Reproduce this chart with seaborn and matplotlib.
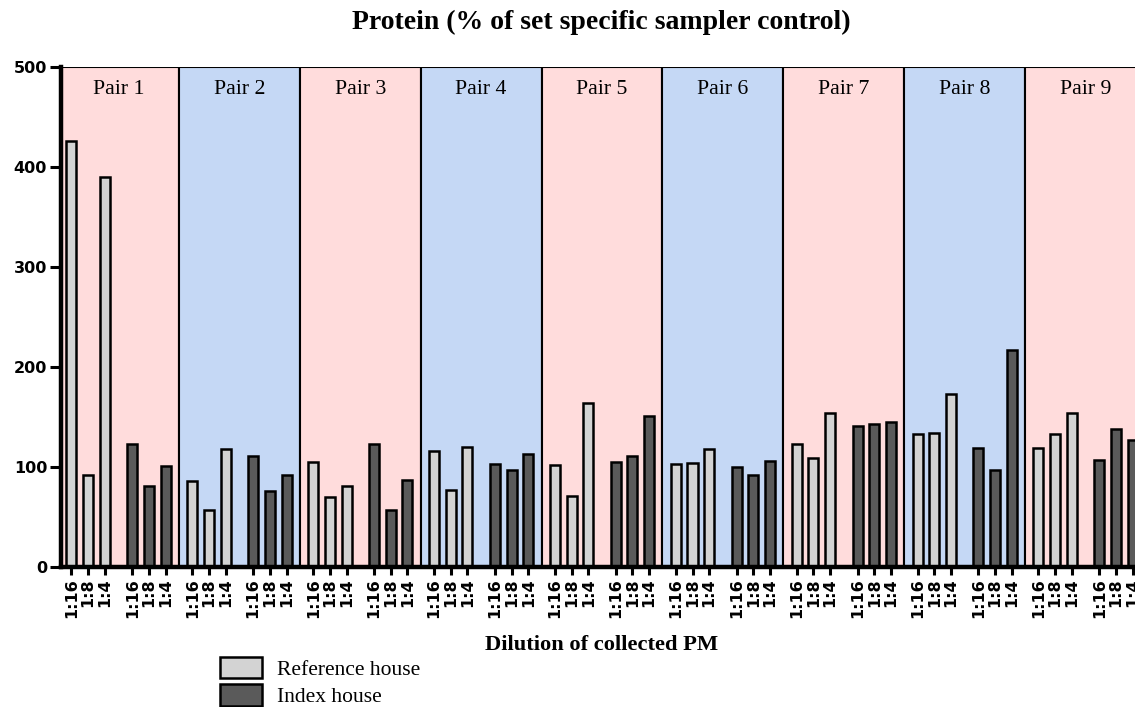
import numpy as np
import pandas as pd
import seaborn as sns
import matplotlib
matplotlib.use("Agg")
import matplotlib.pyplot as plt
from matplotlib.patches import Patch
import matplotlib.transforms as mtransforms

# ---------------- data ----------------
pairs = [f"Pair {i}" for i in range(1, 10)]
dilutions = ["1:16", "1:8", "1:4"]
houses = ["Reference house", "Index house"]

reference_house = [
    [426, 92, 390],
    [86, 57, 118],
    [105, 70, 81],
    [116, 77, 120],
    [102, 71, 164],
    [103, 104, 118],
    [123, 109, 154],
    [133, 134, 173],
    [119, 133, 154],
]
index_house = [
    [123, 81, 101],
    [111, 76, 92],
    [123, 57, 87],
    [103, 97, 113],
    [105, 111, 151],
    [100, 92, 106],
    [141, 143, 145],
    [119, 97, 217],
    [107, 138, 127],
]

y_ticks = [0, 100, 200, 300, 400, 500]
title = "Protein (% of set specific sampler control)"
x_label = "Dilution of collected PM"

# ---------------- styling ----------------
light = "#d3d3d3"
dark = "#5a5a5a"
pink = "#ffdcdc"
blue = "#c5d8f5"

sns.set_style("ticks")
plt.rcParams["font.family"] = ["DejaVu Sans"]
for key in ["text.color", "axes.labelcolor", "xtick.color", "ytick.color", "axes.edgecolor"]:
    plt.rcParams[key] = "black"

PW = 7.25  # width of one pair block in bar slots
offsets = {"Reference house": [0.8, 1.8, 2.8], "Index house": [4.45, 5.45, 6.45]}

rows = []
for k, p in enumerate(pairs):
    for house, vals in (("Reference house", reference_house[k]), ("Index house", index_house[k])):
        for j, d in enumerate(dilutions):
            rows.append(dict(pair=p, house=house, dilution=d,
                             x=k * PW + offsets[house][j], value=vals[j]))
df = pd.DataFrame(rows)

W, H = 1135, 707
fig = plt.figure(figsize=(W / 100, H / 100), dpi=100)
ax = fig.add_axes([61 / W, 1 - 567 / H, (1146 - 61) / W, 500 / H])

# background pair blocks
for k, p in enumerate(pairs):
    ax.axvspan(k * PW, (k + 1) * PW, facecolor=pink if k % 2 == 0 else blue,
               edgecolor="black", linewidth=1.5, zorder=0)

sns.barplot(data=df, x="x", y="value", hue="house", hue_order=houses,
            palette={"Reference house": light, "Index house": dark},
            native_scale=True, dodge=False, width=0.6, edgecolor="black",
            linewidth=1.8, errorbar=None, legend=False, ax=ax, zorder=2)

ax.set_xlim((61 - 58.1) / 16.68, 9 * PW)
ax.set_ylim(0, 500)
ax.set_yticks(y_ticks)
ax.set_yticklabels([str(t) for t in y_ticks], fontsize=11.5, fontweight="bold")

ax.set_xticks(df["x"].tolist())
ax.set_xticklabels(df["dilution"].tolist(), rotation=90, fontsize=11.5, fontweight="bold")
ax.set_xlabel("")
ax.set_ylabel("")

for s in ["top", "right"]:
    ax.spines[s].set_visible(False)
for s in ["left", "bottom"]:
    ax.spines[s].set_linewidth(3.2)
    ax.spines[s].set_color("black")
    ax.spines[s].set_zorder(5)
ax.tick_params(axis="y", length=8, width=2.2, pad=2, color="black", labelcolor="black")
ax.tick_params(axis="x", length=6, width=2.2, pad=2, color="black", labelcolor="black")

trans = mtransforms.blended_transform_factory(ax.transData, ax.transAxes)
for k, p in enumerate(pairs):
    ax.text((k + 0.5) * PW, 0.956, p, transform=trans, ha="center", va="center",
            family="Liberation Serif", fontsize=15.7, color="black", zorder=6)

fig.text(601 / W, 1 - 22 / H, title, ha="center", va="center", color="black",
         family="Liberation Serif", fontweight="bold", fontsize=20)
fig.text(602 / W, 1 - 645 / H, x_label, ha="center", va="center", color="black",
         family="Liberation Serif", fontweight="bold", fontsize=16.2)

handles = [Patch(facecolor=light, edgecolor="black", linewidth=1.8, label=houses[0]),
           Patch(facecolor=dark, edgecolor="black", linewidth=1.8, label=houses[1])]
leg = fig.legend(handles=handles, loc="upper left", bbox_to_anchor=(220 / W, 1 - 657 / H),
                 frameon=False, prop=dict(family="Liberation Serif", size=15.5),
                 handlelength=1.95, handleheight=1.15, handletextpad=0.7,
                 labelspacing=0.2, borderpad=0, borderaxespad=0)
for t in leg.get_texts():
    t.set_color("black")

fig.savefig("out.png", dpi=100)
